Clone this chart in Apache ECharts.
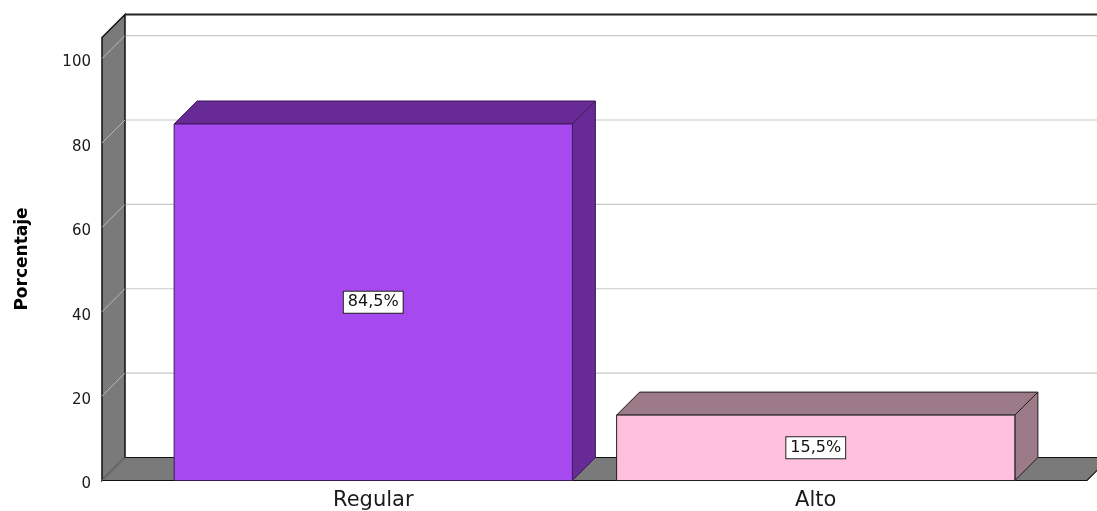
<!DOCTYPE html>
<html>
<head>
<meta charset="utf-8">
<title>Porcentaje</title>
<script src="https://cdn.jsdelivr.net/npm/echarts@6/dist/echarts.min.js"></script>
<style>
  html, body { margin: 0; padding: 0; background: #fff; }
  #chart { width: 1097px; height: 511px; }
</style>
</head>
<body>
<div id="chart"></div>
<script>
// Categories and their percentages
const categories = ['Regular', 'Alto'];
const percentages = [84.5, 15.5];
// Value axis ticks (gridlines on the back wall)
const tickValues = [0, 20, 40, 60, 80, 100];

// Bar colours: front face, top/side shading, edge stroke
const frontColors = ['#A64AF0', '#FFC0E0'];
const shadeColors = ['#682A94', '#9C7A88'];
const edgeColors = ['#3E1A5C', '#1E1E1E'];

const DEPTH = 23;      // oblique depth offset of the 3D frame (px)
const WALL_PAD = 50;   // floor extends this far beyond the category bands
const FONT = '"DejaVu Sans", "Liberation Sans", sans-serif';

function fmtPct(v) {
  return String(v).replace('.', ',') + '%';
}

const chart = echarts.init(document.getElementById('chart'), null, { renderer: 'canvas' });

const option = {
  animation: false,
  backgroundColor: '#ffffff',
  grid: { left: 152, right: 60, top: 37.5, bottom: 30.5, containLabel: false, outerBoundsMode: 'none' },
  xAxis: {
    type: 'category',
    data: categories,
    axisLine: { show: false },
    axisTick: { show: false },
    splitLine: { show: false },
    axisLabel: { fontFamily: FONT, fontSize: 21, color: '#1a1a1a', margin: 10 }
  },
  yAxis: {
    type: 'value',
    min: 0,
    max: 105,
    interval: 20,
    offset: 50,
    name: 'Porcentaje',
    nameLocation: 'middle',
    nameGap: 71,
    nameRotate: 90,
    nameTextStyle: { fontFamily: FONT, fontWeight: 'bold', fontSize: 17, color: '#000' },
    axisLine: { show: false },
    axisTick: { show: false },
    splitLine: { show: false },
    axisLabel: {
      showMaxLabel: false,
      fontFamily: FONT, fontSize: 15, color: '#1a1a1a', margin: 11,
      verticalAlign: 'top',
      lineHeight: 8
    }
  },
  series: [
    {
      // Walls, floor and gridlines of the 3D frame
      type: 'custom',
      z: 1,
      silent: true,
      data: [[0]],
      renderItem: function (params, api) {
        const cs = params.coordSys;
        const d = DEPTH;
        const xl = cs.x - WALL_PAD;                 // front-left corner
        const xr = cs.x + cs.width + WALL_PAD;      // front-right floor corner
        const yTop = cs.y;
        const yBase = api.coord([0, 0])[1];
        const far = params.coordSys.x + 2000;
        const children = [];
        // back wall
        children.push({
          type: 'rect',
          shape: { x: xl + d, y: yTop - d, width: far, height: yBase - yTop },
          style: { fill: '#ffffff' }
        });
        // gridlines on back wall
        tickValues.forEach(function (t) {
          const yf = api.coord([0, t])[1];
          if (t > 0) {
            children.push({
              type: 'line',
              shape: { x1: xl + d, y1: yf - d, x2: far, y2: yf - d },
              style: { stroke: '#c8c8c8', lineWidth: 1.2 }
            });
          }
        });
        // left wall
        children.push({
          type: 'polygon',
          shape: { points: [[xl, yTop], [xl + d, yTop - d], [xl + d, yBase - d], [xl, yBase]] },
          style: { fill: '#7a7a7a', stroke: '#111', lineWidth: 1.5, lineJoin: 'miter' }
        });
        // floor
        children.push({
          type: 'polygon',
          shape: { points: [[xl, yBase], [xl + d, yBase - d], [xr + d, yBase - d], [xr, yBase]] },
          style: { fill: '#7a7a7a', stroke: '#111', lineWidth: 1.2, lineJoin: 'miter' }
        });
        // diagonal gridlines across the left wall
        tickValues.forEach(function (t) {
          const yf = api.coord([0, t])[1];
          children.push({
            type: 'line',
            shape: { x1: xl, y1: yf, x2: xl + d, y2: yf - d },
            style: { stroke: '#b8b8b8', lineWidth: 1 }
          });
        });
        // top edge of the back wall
        children.push({
          type: 'line',
          shape: { x1: xl + d, y1: yTop - d, x2: far, y2: yTop - d },
          style: { stroke: '#222', lineWidth: 2 }
        });
        return { type: 'group', children: children };
      }
    },
    {
      // 3D bars with value labels
      type: 'custom',
      z: 2,
      data: percentages.map(function (v, i) { return [i, v]; }),
      encode: { x: 0, y: 1 },
      renderItem: function (params, api) {
        const i = params.dataIndex;
        const v = api.value(1);
        const top = api.coord([api.value(0), v]);
        const base = api.coord([api.value(0), 0]);
        const bw = api.size([1, 0])[0] * 0.9;
        const d = DEPTH;
        const x0 = top[0] - bw / 2, x1 = top[0] + bw / 2;
        const y0 = top[1], y1 = base[1];
        const edge = { stroke: edgeColors[i], lineWidth: 1, lineJoin: 'miter' };
        const midY = api.coord([api.value(0), v / 2])[1];
        return {
          type: 'group',
          children: [
            {
              type: 'polygon',
              shape: { points: [[x1, y0], [x1 + d, y0 - d], [x1 + d, y1 - d], [x1, y1]] },
              style: Object.assign({ fill: shadeColors[i] }, edge)
            },
            {
              type: 'polygon',
              shape: { points: [[x0, y0], [x0 + d, y0 - d], [x1 + d, y0 - d], [x1, y0]] },
              style: Object.assign({ fill: shadeColors[i] }, edge)
            },
            {
              type: 'rect',
              shape: { x: x0, y: y0, width: bw, height: y1 - y0 },
              style: Object.assign({ fill: frontColors[i] }, edge)
            },
            {
              type: 'text',
              x: top[0],
              y: midY,
              style: {
                text: fmtPct(v),
                fontFamily: FONT,
                fontSize: 16,
                fill: '#111',
                align: 'center',
                verticalAlign: 'middle',
                backgroundColor: '#ffffff',
                borderColor: '#222222',
                borderWidth: 1,
                padding: [3, 4, 2, 4]
              }
            }
          ]
        };
      }
    }
  ]
};

chart.setOption(option);
</script>
</body>
</html>
